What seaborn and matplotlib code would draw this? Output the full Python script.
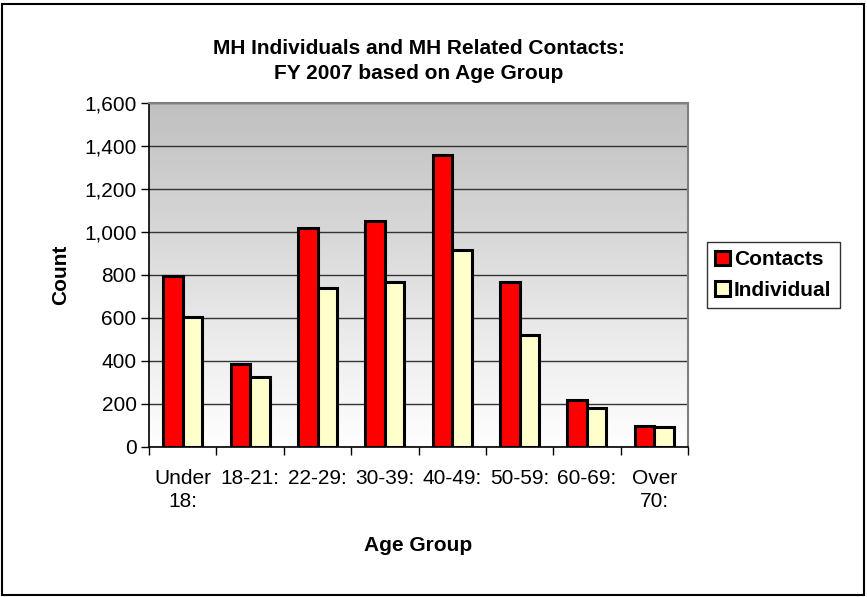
import numpy as np
import pandas as pd
import seaborn as sns
import matplotlib.pyplot as plt
from matplotlib.colors import LinearSegmentedColormap
from matplotlib.patches import Rectangle
from matplotlib.ticker import FuncFormatter, FixedLocator

# chart values
age_groups = ["Under\n18:", "18-21:", "22-29:", "30-39:", "40-49:", "50-59:", "60-69:", "Over\n70:"]
contacts = [797, 385, 1020, 1053, 1357, 769, 219, 98]
individuals = [603, 326, 740, 766, 915, 522, 180, 92]
series = ["Contacts", "Individual"]

df = pd.DataFrame({
    "group": age_groups * 2,
    "count": contacts + individuals,
    "series": [series[0]] * len(age_groups) + [series[1]] * len(age_groups),
})

sns.set_style("white", {"text.color": "black", "axes.labelcolor": "black",
                        "xtick.color": "black", "ytick.color": "black"})
plt.rcParams["font.family"] = ["Liberation Sans", "DejaVu Sans"]
fs = 15

fig = plt.figure(figsize=(8.67, 5.97), dpi=100)
ax = fig.add_axes([0.172, 0.2513, 0.6215, 0.5762])

# gray-to-white gradient behind the bars
grad = np.linspace(0, 1, 256).reshape(-1, 1)
ax.imshow(grad, cmap=LinearSegmentedColormap.from_list("g", ["#ffffff", "#c0c0c0"]),
          aspect="auto", extent=[0, 1, 0, 1], transform=ax.transAxes, zorder=0, origin="lower")

sns.barplot(data=df, x="group", y="count", hue="series", palette=["#ff0000", "#ffffcc"],
            saturation=1, width=0.58, gap=0, edgecolor="black", linewidth=2.2, ax=ax, zorder=3)

ax.set_xlim(-0.5, len(age_groups) - 0.5)
ax.set_ylim(0, 1600)
ax.yaxis.set_major_locator(FixedLocator(range(0, 1601, 200)))
ax.yaxis.set_major_formatter(FuncFormatter(lambda v, p: f"{int(v):,}"))
ax.grid(axis="y", color="#333333", linewidth=1.0, zorder=1)
ax.set_axisbelow(True)

# x ticks sit between categories, labels at centres
ax.set_xticks(np.arange(-0.5, len(age_groups), 1.0))
ax.set_xticklabels([])
ax.set_xticks(np.arange(len(age_groups)), minor=True)
ax.set_xticklabels(age_groups, minor=True, fontsize=fs, va="top", linespacing=1.25)
ax.tick_params(axis="x", which="minor", length=0, pad=16)
ax.tick_params(axis="x", which="major", length=6, width=1, direction="out", color="black")
ax.tick_params(axis="y", length=6, width=1, direction="out", color="black", labelsize=fs, pad=3)
ax.xaxis.set_ticks_position("bottom")
ax.yaxis.set_ticks_position("left")
for lbl in ax.get_xticklabels(minor=True):
    lbl.set_multialignment("center")

for side in ["top", "right"]:
    ax.spines[side].set_color("#808080")
    ax.spines[side].set_linewidth(1.5)
for side in ["left", "bottom"]:
    ax.spines[side].set_color("black")
    ax.spines[side].set_linewidth(1.2)

ax.set_xlabel("Age Group", fontsize=fs, fontweight="bold", labelpad=18)
ax.set_ylabel("Count", fontsize=fs, fontweight="bold", labelpad=10)
ax.set_title("MH Individuals and MH Related Contacts:\nFY 2007 based on Age Group",
             fontsize=fs, fontweight="bold", pad=17, linespacing=1.45, color="black")

leg = ax.legend(loc="center left", bbox_to_anchor=(1.035, 0.5), frameon=True, fancybox=False,
                edgecolor="black", fontsize=fs, handlelength=0.7, handleheight=0.7,
                handletextpad=0.2, borderpad=0.4, labelspacing=0.55, borderaxespad=0)
leg.get_frame().set_linewidth(1.0)
for t in leg.get_texts():
    t.set_fontweight("bold")
    t.set_color("black")

# outer chart border
fig.patches.append(Rectangle((0.002, 0.004), 0.995, 0.99, transform=fig.transFigure,
                             fill=False, edgecolor="black", linewidth=1.5))

fig.savefig("out.png", dpi=100)
